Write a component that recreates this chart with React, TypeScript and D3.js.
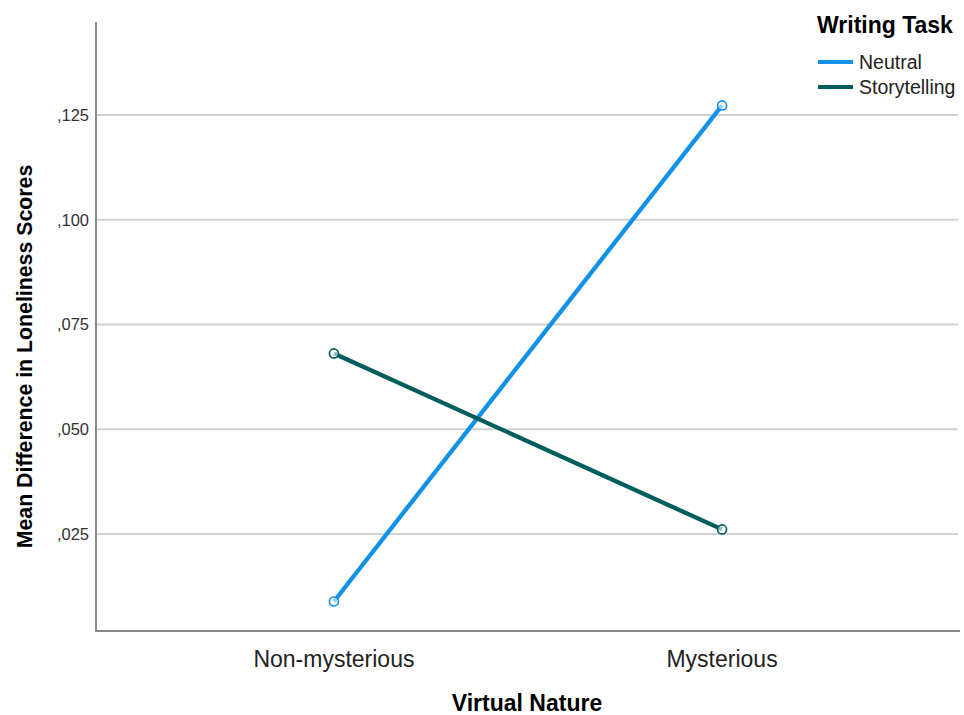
import React from "react";
import * as d3 from "d3";

const categories = ["Non-mysterious", "Mysterious"];
const seriesNames = ["Neutral", "Storytelling"];
const neutralValues = [0.0089, 0.1273];
const storytellingValues = [0.0681, 0.0261];
const yTicks = [0.025, 0.05, 0.075, 0.1, 0.125];
const colors = ["#1192e8", "#005d5d"];

const W = 964;
const H = 715;
const left = 96;
const right = 960;
const top = 22;
const bottom = 631;
const FONT = "'Liberation Sans', Arial, sans-serif";

export default function App() {
  const x = d3.scalePoint<string>().domain(categories).range([left, right]).padding(0.613);
  const y = d3.scaleLinear().domain([0.00185, 0.1472]).range([bottom, top]);
  const fmt = (v: number) => d3.format(".3f")(v).replace(/^0\./, ",");
  const line = d3
    .line<number>()
    .x((_, i) => x(categories[i]) as number)
    .y((d) => y(d));
  const series = [neutralValues, storytellingValues];

  return (
    <svg width={W} height={H} style={{ position: "absolute", left: 0, top: 0, background: "#fff" }}>
      <rect width={W} height={H} fill="#fff" />
      {yTicks.map((t) => (
        <g key={t}>
          <line x1={left} x2={right - 2} y1={y(t)} y2={y(t)} stroke="#d2d2d2" strokeWidth={2} />
          <text x={89} y={y(t)} dy="0.35em" textAnchor="end" fontFamily={FONT} fontSize={16.5} fill="#333">
            {fmt(t)}
          </text>
        </g>
      ))}
      <line x1={left} x2={left} y1={top} y2={bottom + 1} stroke="#888" strokeWidth={2} />
      <line x1={left} x2={right} y1={bottom} y2={bottom} stroke="#888" strokeWidth={2} />
      {categories.map((c) => (
        <text key={c} x={x(c)} y={667} textAnchor="middle" fontFamily={FONT} fontSize={23} fill="#222">
          {c}
        </text>
      ))}
      <text x={527} y={711} textAnchor="middle" fontFamily={FONT} fontSize={23} fontWeight="bold" fill="#000">
        Virtual Nature
      </text>
      <text
        transform={`translate(32,${356.5}) rotate(-90)`}
        textAnchor="middle"
        fontFamily={FONT}
        fontSize={21.3}
        fontWeight="bold"
        fill="#000"
      >
        Mean Difference in Loneliness Scores
      </text>
      {series.map((vals, si) => (
        <g key={si}>
          <path d={line(vals) as string} fill="none" stroke={colors[si]} strokeWidth={4.3} />
          {vals.map((v, i) => (
            <circle
              key={i}
              cx={x(categories[i])}
              cy={y(v)}
              r={4.5}
              fill="#fff"
              fillOpacity={0.6}
              stroke={colors[si]}
              strokeWidth={1.6}
            />
          ))}
        </g>
      ))}
      <text x={817} y={33} fontFamily={FONT} fontSize={23} fontWeight="bold" fill="#000">
        Writing Task
      </text>
      {seriesNames.map((s, i) => (
        <g key={s}>
          <line x1={818} x2={853} y1={62 + i * 25} y2={62 + i * 25} stroke={colors[i]} strokeWidth={4} />
          <text x={859} y={62 + i * 25} dy="0.35em" fontFamily={FONT} fontSize={19.5} fill="#222">
            {s}
          </text>
        </g>
      ))}
    </svg>
  );
}
